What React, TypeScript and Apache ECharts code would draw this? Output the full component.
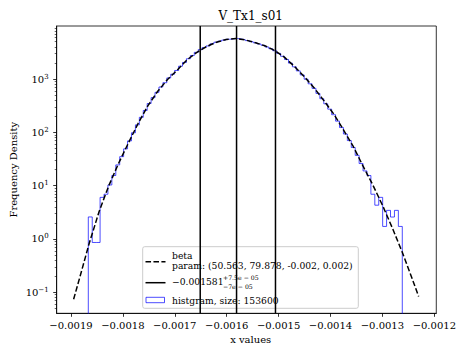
import React, { useEffect, useRef } from "react";
import * as echarts from "echarts";

// ---- axes ----
const xTickValues = [-0.0019, -0.0018, -0.0017, -0.0016, -0.0015, -0.0014, -0.0013, -0.0012];
const yTickExponents = [-1, 0, 1, 2, 3];
const xMin = -0.0019275;
const xMax = -0.0011962;
const yMinDensity = 0.0404;
const yMaxDensity = 9860;

// ---- histogram (80 bins, density) ----
const histLeft = -0.0018666;
const histRight = -0.0012617;
const histDensity = [
  2.59, 0.86, 0.86, 6.03, 6.9, 10.3, 15.5, 24.5, 35, 49,
  69, 98, 138, 191, 257, 347, 447, 562, 708, 851,
  1047, 1230, 1445, 1738, 2042, 2399, 2754, 3162, 3548, 3890,
  4169, 4571, 4898, 5129, 5370, 5559, 5662, 5754, 5623, 5458,
  5248, 5012, 4786, 4539, 4295, 3981, 3690, 3388, 3020, 2667,
  2323, 1986, 1690, 1419, 1191, 991, 813, 668, 537, 427,
  343, 272, 214, 162, 123, 93, 70, 52, 37, 26,
  18.9, 15.5, 6.9, 4.3, 6.03, 1.72, 3.44, 2.58, 3.44, 1.72,
];

// ---- fitted beta pdf ----
const betaX = [
  -0.0018949, -0.0018836, -0.0018648, -0.0018459, -0.0018271, -0.0018082, -0.0017894,
  -0.0017705, -0.0017517, -0.0017328, -0.001714, -0.0016951, -0.0016763, -0.0016574,
  -0.0016386, -0.0016197, -0.0016009, -0.0015821, -0.0015632, -0.0015444, -0.0015255,
  -0.0015067, -0.0014878, -0.001469, -0.0014501, -0.0014313, -0.0014124, -0.0013936,
  -0.0013747, -0.0013559, -0.001337, -0.0013182, -0.0012993, -0.0012805, -0.0012617,
  -0.0012428, -0.0012302,
];
const betaY = [
  0.0741, 0.182, 0.832, 3.24, 10.0, 26.3, 63.1,
  148, 316, 589, 977, 1479, 2291, 3162,
  4074, 4898, 5495, 5754, 5370, 4786, 4169,
  3388, 2512, 1698, 1096, 676, 389, 219,
  110, 53.7, 22.9, 10.2, 4.17, 1.58, 0.562,
  0.182, 0.0832,
];

// ---- median and error ----
const median = -0.001581;
const errLow = 7e-5;
const errHigh = 7.5e-5;

const FONT = "DejaVu Serif";
const MINUS = "\u2212";

export default function App() {
  const ref = useRef<HTMLDivElement>(null);

  useEffect(() => {
    if (!ref.current) return;
    const chart = echarts.init(ref.current, null, { renderer: "svg" });

    const yMin = Math.log10(yMinDensity);
    const yMax = Math.log10(yMaxDensity);

    const majorY = yTickExponents.slice();
    const minorY: number[] = [];
    for (let n = -3; n <= 4; n++) {
      for (let k = 2; k <= 9; k++) {
        const v = n + Math.log10(k);
        if (v >= yMin && v <= yMax) minorY.push(v);
      }
    }

    const nb = histDensity.length;
    const w = (histRight - histLeft) / nb;
    const histPts: number[][] = [[histLeft, -5]];
    histDensity.forEach((d, i) => {
      const y = Math.log10(d);
      histPts.push([histLeft + i * w, y], [histLeft + (i + 1) * w, y]);
    });
    histPts.push([histRight, -5]);

    const betaPts = betaX.map((x, i) => [x, Math.log10(betaY[i])]);
    const vlines = [median - errLow, median, median + errHigh];

    const gridBox = { left: 56.7, top: 26, width: 388, height: 287.3 };

    const LEG = 9.2;
    const textBase = { fontFamily: FONT, fontSize: LEG, fill: "#000" };
    const ctr = { align: "center", verticalAlign: "middle", textAlign: "center", textVerticalAlign: "middle" };
    const lft = { align: "left", verticalAlign: "middle", textAlign: "left", textVerticalAlign: "middle" };

    const option: any = {
      animation: false,
      backgroundColor: "#fff",
      textStyle: { fontFamily: FONT, fontSize: 10, color: "#000" },
      grid: [
        { ...gridBox, show: true, borderColor: "#000", borderWidth: 0.8, backgroundColor: "transparent" },
        { ...gridBox, show: false },
      ],
      xAxis: [
        {
          type: "value",
          gridIndex: 0,
          min: xMin,
          max: xMax,
          axisLine: { show: true, onZero: false, lineStyle: { color: "#000", width: 0.8 } },
          axisTick: { show: true, inside: false, length: 3.5, lineStyle: { color: "#000", width: 0.8 }, customValues: xTickValues },
          axisLabel: {
            show: true,
            margin: 7,
            customValues: xTickValues,
            fontFamily: FONT,
            fontSize: 10,
            color: "#000",
            formatter: (v: number) => (v < 0 ? MINUS : "") + Math.abs(v).toFixed(4),
          },
          splitLine: { show: false },
        },
        {
          type: "value",
          gridIndex: 1,
          min: xMin,
          max: xMax,
          show: false,
          axisLine: { onZero: false },
        },
      ],
      yAxis: [
        {
          type: "value",
          gridIndex: 0,
          min: yMin,
          max: yMax,
          axisLine: { show: true, onZero: false, lineStyle: { color: "#000", width: 0.8 } },
          axisTick: { show: true, inside: false, length: 3.5, lineStyle: { color: "#000", width: 0.8 }, customValues: majorY },
          axisLabel: {
            show: true,
            margin: 8,
            customValues: majorY,
            fontFamily: FONT,
            formatter: (v: number) => {
              const n = Math.round(v);
              return `{b|10}{s|${n < 0 ? MINUS : ""}${Math.abs(n)}}`;
            },
            rich: {
              b: { fontFamily: FONT, fontSize: 10, color: "#000", lineHeight: 12 },
              s: { fontFamily: FONT, fontSize: 7, color: "#000", lineHeight: 7, verticalAlign: "top" },
            },
          },
          splitLine: { show: false },
        },
        {
          type: "value",
          gridIndex: 1,
          min: yMin,
          max: yMax,
          position: "left",
          axisLine: { show: false, onZero: false },
          axisTick: { show: true, inside: false, length: 2, lineStyle: { color: "#000", width: 0.6 }, customValues: minorY },
          axisLabel: { show: false },
          splitLine: { show: false },
        },
      ],
      series: [
        {
          type: "line",
          xAxisIndex: 0,
          yAxisIndex: 0,
          data: histPts,
          symbol: "none",
          clip: true,
          silent: true,
          lineStyle: { color: "#0000ff", width: 1, opacity: 0.7 },
          z: 2,
        },
        ...vlines.map((v) => ({
          type: "line",
          xAxisIndex: 0,
          yAxisIndex: 0,
          data: [[v, yMin], [v, yMax]],
          symbol: "none",
          silent: true,
          lineStyle: { color: "#000", width: 1.5 },
          z: 3,
        })),
        {
          type: "line",
          xAxisIndex: 0,
          yAxisIndex: 0,
          data: betaPts,
          symbol: "none",
          silent: true,
          clip: true,
          lineStyle: { color: "#000", width: 1.5, type: [5.55, 2.4] },
          z: 4,
        },
      ],
      graphic: [
        { type: "text", x: 250.7, y: 16, style: { ...textBase, fontSize: 12, text: "V_Tx1_s01", ...ctr } },
        { type: "text", x: 250.7, y: 339.5, style: { ...textBase, fontSize: 10, text: "x values", ...ctr } },
        { type: "text", x: 13.5, y: 169.7, rotation: Math.PI / 2, style: { ...textBase, fontSize: 10, text: "Frequency Density", ...ctr } },
        {
          type: "group",
          z: 100,
          children: [
            {
              type: "rect",
              shape: { x: 142.7, y: 246.7, width: 215.6, height: 61.6, r: 2 },
              style: { fill: "rgba(255,255,255,0.8)", stroke: "#cccccc", lineWidth: 1 },
            },
            {
              type: "line",
              shape: { x1: 145.5, y1: 261.7, x2: 165.5, y2: 261.7 },
              style: { stroke: "#000", lineWidth: 1.5, lineDash: [5.55, 2.4] },
            },
            { type: "text", x: 172, y: 255.3, style: { ...textBase, text: "beta", ...lft } },
            { type: "text", x: 172, y: 265.5, style: { ...textBase, text: "param: (50.563, 79.878, -0.002, 0.002)", ...lft } },
            {
              type: "line",
              shape: { x1: 145.5, y1: 282.7, x2: 165.5, y2: 282.7 },
              style: { stroke: "#000", lineWidth: 1.5 },
            },
            { type: "text", x: 172, y: 281.7, style: { ...textBase, text: MINUS + "0.001581", ...lft } },
            { type: "text", x: 223, y: 277.2, style: { ...textBase, fontSize: 6.2, text: "+7.5e " + MINUS + " 05", ...lft } },
            { type: "text", x: 223, y: 286, style: { ...textBase, fontSize: 6.2, text: MINUS + "7e " + MINUS + " 05", ...lft } },
            {
              type: "rect",
              shape: { x: 146, y: 297.3, width: 18.5, height: 5.4 },
              style: { fill: "none", stroke: "rgba(0,0,255,0.7)", lineWidth: 1 },
            },
            { type: "text", x: 172, y: 300, style: { ...textBase, text: "histgram, size: 153600", ...lft } },
          ],
        },
      ],
    };

    chart.setOption(option);
    return () => chart.dispose();
  }, []);

  return <div ref={ref} style={{ position: "absolute", left: 0, top: 0, width: 459, height: 351 }} />;
}
